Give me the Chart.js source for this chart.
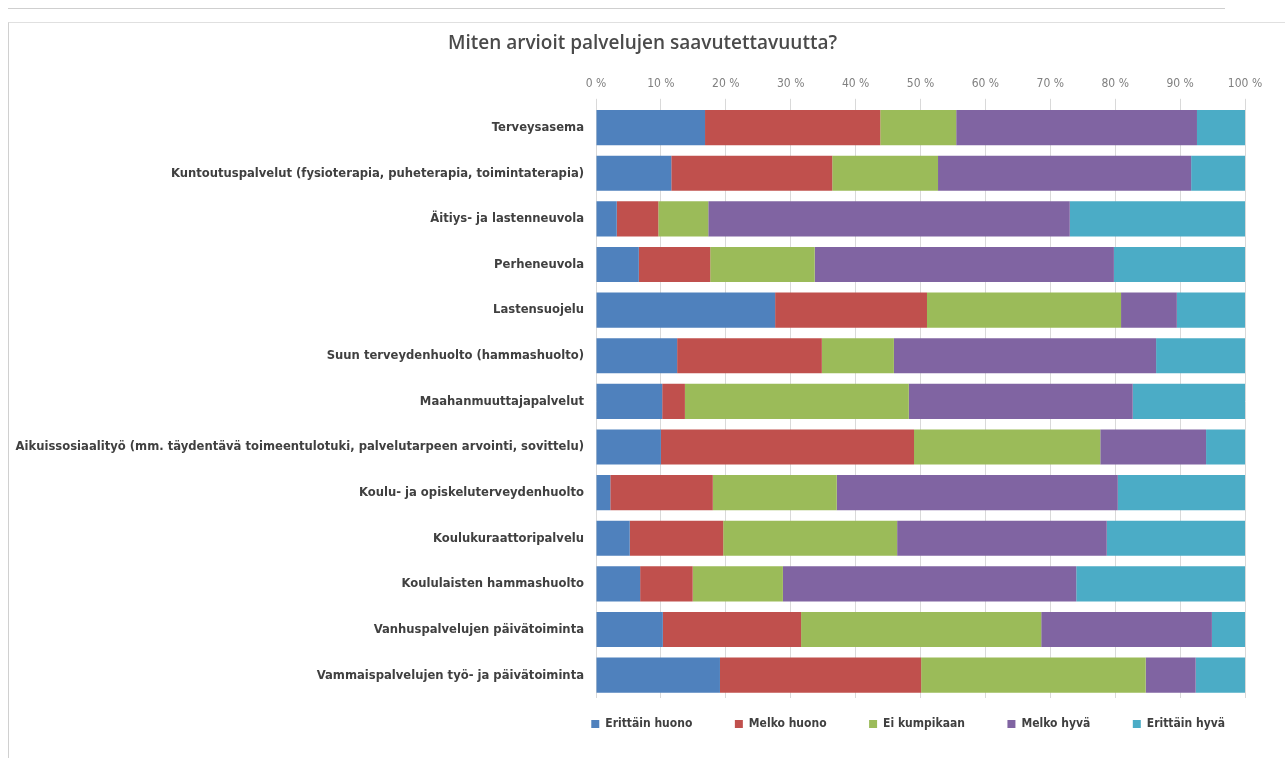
<!DOCTYPE html>
<html>
<head>
<meta charset="utf-8">
<script src="https://cdn.jsdelivr.net/npm/chart.js@4/dist/chart.umd.min.js"></script>
<style>
  html, body { margin: 0; padding: 0; background: #fff; }
  #wrap { position: relative; width: 1285px; height: 758px; }
  #topline { position: absolute; left: 8px; top: 8px; width: 1217px; height: 0; border-top: 1px solid #cfcfcf; }
  #frame { position: absolute; left: 8px; top: 22px; width: 1276px; height: 735px; border-left: 1px solid #d0d0d0; border-top: 1px solid #e0e0e0; }
  canvas { position: absolute; left: 0; top: 0; }
</style>
</head>
<body>
<div id="wrap">
  <div id="topline"></div>
  <div id="frame"></div>
  <canvas id="c" width="1285" height="758"></canvas>
</div>
<script>
const categories = [
  "Terveysasema",
  "Kuntoutuspalvelut (fysioterapia, puheterapia, toimintaterapia)",
  "Äitiys- ja lastenneuvola",
  "Perheneuvola",
  "Lastensuojelu",
  "Suun terveydenhuolto (hammashuolto)",
  "Maahanmuuttajapalvelut",
  "Aikuissosiaalityö (mm. täydentävä toimeentulotuki, palvelutarpeen arvointi, sovittelu)",
  "Koulu- ja opiskeluterveydenhuolto",
  "Koulukuraattoripalvelu",
  "Koululaisten hammashuolto",
  "Vanhuspalvelujen päivätoiminta",
  "Vammaispalvelujen työ- ja päivätoiminta"
];
const seriesNames = ["Erittäin huono", "Melko huono", "Ei kumpikaan", "Melko hyvä", "Erittäin hyvä"];
const erittainHuono = [16.8, 11.6, 3.2, 6.6, 27.6, 12.5, 10.2, 10.0, 2.2, 5.2, 6.8, 10.3, 19.1];
const melkoHuono    = [27.0, 24.8, 6.4, 11.0, 23.4, 22.3, 3.5, 39.0, 15.8, 14.4, 8.1, 21.3, 31.0];
const eiKumpikaan   = [11.7, 16.3, 7.7, 16.1, 29.9, 11.1, 34.5, 28.7, 19.1, 26.8, 13.9, 37.0, 34.6];
const melkoHyva     = [37.1, 39.0, 55.7, 46.1, 8.6, 40.4, 34.5, 16.3, 43.3, 32.3, 45.2, 26.3, 7.7];
const erittainHyva  = [7.4, 8.3, 27.0, 20.2, 10.5, 13.7, 17.3, 6.0, 19.6, 21.3, 26.0, 5.1, 7.6];
const xTicks = [0, 10, 20, 30, 40, 50, 60, 70, 80, 90, 100];
const titleText = "Miten arvioit palvelujen saavutettavuutta?";

const colors = ["#4F81BD", "#C0504D", "#9BBB59", "#8064A2", "#4BACC6"];
const seriesData = [erittainHuono, melkoHuono, eiKumpikaan, melkoHyva, erittainHyva];
const labelFont = "'DejaVu Sans Condensed', Roboto, sans-serif";
const legendGap = '\u00a0'.repeat(6);

const datasets = seriesNames.map((name, i) => ({
  label: name,
  data: seriesData[i],
  backgroundColor: colors[i],
  borderWidth: 0,
  barPercentage: 0.77,
  categoryPercentage: 1.0
}));

const titleShift = {
  id: 'titleShift',
  afterLayout(chart) {
    if (chart.titleBlock) { chart.titleBlock.left += 15; chart.titleBlock.right += 15; }
  }
};

new Chart(document.getElementById('c'), {
  type: 'bar',
  data: { labels: categories, datasets },
  plugins: [titleShift],
  options: {
    indexAxis: 'y',
    responsive: false,
    animation: false,
    layout: { padding: { left: 10, right: 40, top: 0, bottom: 18 } },
    plugins: {
      title: {
        display: true,
        text: titleText,
        color: '#4a4a4a',
        font: { family: "'Open Sans', sans-serif", size: 19, weight: '600' },
        padding: { top: 32, bottom: 10 }
      },
      legend: {
        position: 'bottom',
        align: 'end',
        labels: {
          boxWidth: 8,
          boxHeight: 8,
          padding: 20,
          color: '#404040',
          font: { family: labelFont, size: 12, weight: 'bold' },
          generateLabels: (chart) => {
            const items = Chart.defaults.plugins.legend.labels.generateLabels(chart);
            items.forEach((it, i) => { if (i < items.length - 1) it.text = it.text + legendGap; });
            return items;
          }
        }
      },
      tooltip: { enabled: false }
    },
    scales: {
      x: {
        position: 'top',
        stacked: true,
        min: 0,
        max: 100,
        afterBuildTicks: (scale) => { scale.ticks = xTicks.map(v => ({ value: v })); },
        afterFit: (scale) => { scale.height = 40; },
        ticks: {
          color: '#808080',
          font: { family: labelFont, size: 12 },
          padding: 8,
          callback: (v) => v + ' %'
        },
        grid: { color: '#d9d9d9', tickLength: 6, drawTicks: true },
        border: { display: false }
      },
      y: {
        stacked: true,
        afterFit: (scale) => { scale.width = 586; },
        ticks: {
          color: '#404040',
          padding: 4,
          font: { family: labelFont, size: 12.9, weight: 'bold' }
        },
        grid: { display: false },
        border: { display: false }
      }
    }
  }
});
</script>
</body>
</html>
